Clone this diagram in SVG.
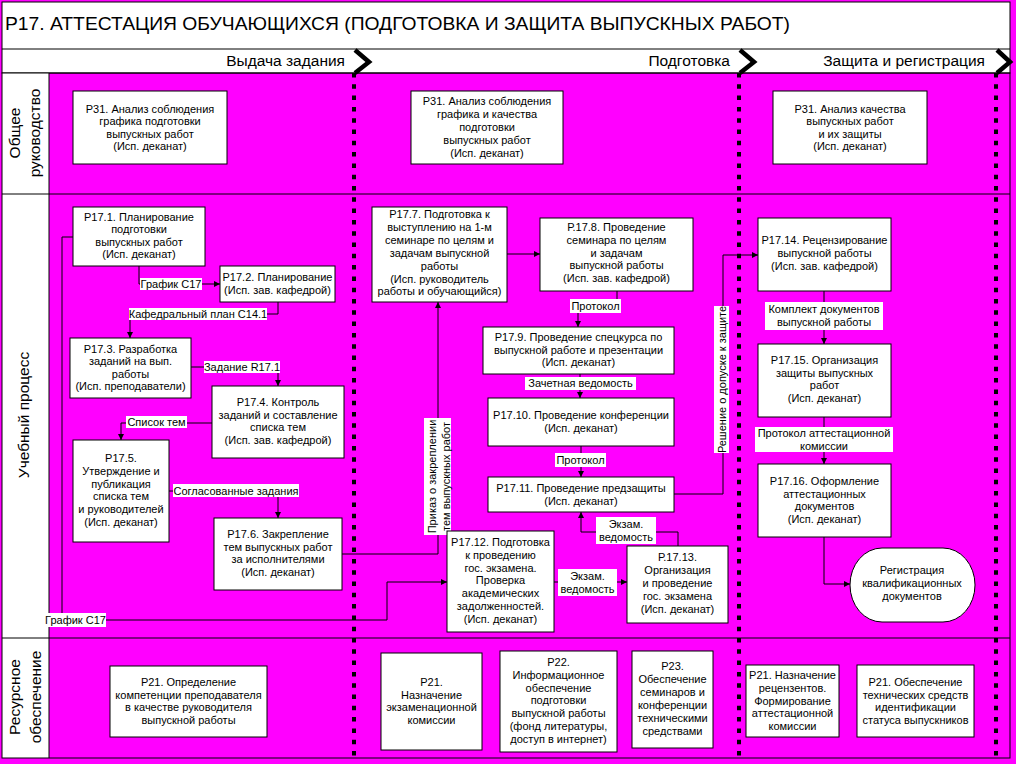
<svg xmlns="http://www.w3.org/2000/svg" width="1016" height="764" viewBox="0 0 1016 764">
<style>
text{font-family:"Liberation Sans",Arial,sans-serif;fill:#000}
.t{font-size:11px;text-anchor:middle}
.node rect,.node ellipse{fill:#fff;stroke:#000;stroke-width:1}
.conn path{fill:none;stroke:#000;stroke-width:1}
.lb{fill:#fff}
.lane{font-size:15.5px;text-anchor:middle}
.ph{font-size:15.5px;text-anchor:end}
.dash{stroke:#000;stroke-width:4;stroke-dasharray:4.5 6.8;fill:none}
.chev{fill:none;stroke:#000;stroke-width:4.5;stroke-linejoin:miter}
.ln{stroke:#000;stroke-width:1;fill:none}
</style>
<defs>
<marker id="a" viewBox="0 0 8 8" refX="8" refY="4" markerWidth="7" markerHeight="6" markerUnits="userSpaceOnUse" orient="auto">
<path d="M0,0 L8,4 L0,8 z" fill="#000"/>
</marker>
</defs>
<rect x="0" y="0" width="1016" height="764" fill="#FF00FF"/>
<g id="frame">
<rect x="2" y="2" width="1008" height="71" fill="#fff" stroke="#000"/>
<line class="ln" x1="2" y1="49" x2="1010" y2="49"/>
<rect x="2" y="73" width="47" height="685" fill="#fff"/>
<rect x="2" y="73" width="1008" height="685" class="ln"/>
<line class="ln" x1="49" y1="73" x2="49" y2="758"/>
<line class="ln" x1="2" y1="194" x2="1010" y2="194"/>
<line class="ln" x1="2" y1="638" x2="1010" y2="638"/>
<text x="5" y="30" font-size="19" textLength="785" lengthAdjust="spacingAndGlyphs">Р17. АТТЕСТАЦИЯ ОБУЧАЮЩИХСЯ (ПОДГОТОВКА И ЗАЩИТА ВЫПУСКНЫХ РАБОТ)</text>
<text class="ph" x="345" y="66">Выдача задания</text>
<text class="ph" x="730" y="66">Подготовка</text>
<text class="ph" x="985" y="66">Защита и регистрация</text>
<line class="dash" x1="354" y1="73" x2="354" y2="758"/>
<line class="dash" x1="739" y1="73" x2="739" y2="758"/>
<line class="dash" x1="996" y1="73" x2="996" y2="758"/>
<polyline class="chev" points="355,50 369,62 355,73"/>
<polyline class="chev" points="740,50 754,62 740,73"/>
<polyline class="chev" points="997,50 1010,62 997,73"/>
<text class="lane" transform="translate(20,133) rotate(-90)">Общее</text>
<text class="lane" transform="translate(40,133) rotate(-90)">руководство</text>
<text class="lane" transform="translate(29,415) rotate(-90)">Учебный процесс</text>
<text class="lane" transform="translate(20,697) rotate(-90)">Ресурсное</text>
<text class="lane" transform="translate(41,697) rotate(-90)">обеспечение</text>
</g>
<g id="connectors" class="conn">
<path d="M139,266 V284 H220" marker-end="url(#a)"/>
<path d="M278,302 V314 H130 V338" marker-end="url(#a)"/>
<path d="M191,367 H278 V386" marker-end="url(#a)"/>
<path d="M212,423 H121 V440" marker-end="url(#a)"/>
<path d="M169,491 H278 V518" marker-end="url(#a)"/>
<path d="M342,554 H438 V302" marker-end="url(#a)"/>
<path d="M73,237 H62 V620 H387 V582 H447" marker-end="url(#a)"/>
<path d="M507,254 H540" marker-end="url(#a)"/>
<path d="M617,291 V306 H578 V327" marker-end="url(#a)"/>
<path d="M580,374 V398" marker-end="url(#a)"/>
<path d="M581,446 V477" marker-end="url(#a)"/>
<path d="M674,494 H723 V255 H758" marker-end="url(#a)"/>
<path d="M678,546 V532 H581 V512" marker-end="url(#a)"/>
<path d="M554,582 H627" marker-end="url(#a)"/>
<path d="M824,291 V344" marker-end="url(#a)"/>
<path d="M824,417 V464" marker-end="url(#a)"/>
<path d="M824,537 V584 H850" marker-end="url(#a)"/>
<g id="labels">
<rect class="lb" x="140" y="278" width="62" height="12"/><text class="t" x="171" y="288">График С17</text>
<rect class="lb" x="129" y="308" width="138" height="12"/><text class="t" x="198" y="318">Кафедральный план С14.1</text>
<rect class="lb" x="204" y="361" width="76" height="12"/><text class="t" x="242" y="371">Задание R17.1</text>
<rect class="lb" x="126" y="416" width="61" height="12"/><text class="t" x="156.5" y="426">Список тем</text>
<rect class="lb" x="173" y="484" width="126" height="13"/><text class="t" x="236" y="495">Согласованные задания</text>
<rect class="lb" x="570" y="299" width="51" height="14"/><text class="t" x="595.5" y="310">Протокол</text>
<rect class="lb" x="525" y="377" width="111" height="13"/><text class="t" x="580.5" y="387">Зачетная ведомость</text>
<rect class="lb" x="555" y="453" width="51" height="14"/><text class="t" x="580.5" y="464">Протокол</text>
<rect class="lb" x="596" y="517" width="60" height="27"/><text class="t" x="626" y="528">Экзам.<tspan x="626" dy="13">ведомость</tspan></text>
<rect class="lb" x="558" y="569" width="59" height="27"/><text class="t" x="587.5" y="580">Экзам.<tspan x="587.5" dy="13">ведомость</tspan></text>
<rect class="lb" x="765" y="302" width="118" height="28"/><text class="t" x="824" y="313">Комплект документов<tspan x="824" dy="13">выпускной работы</tspan></text>
<rect class="lb" x="755" y="427" width="138" height="25"/><text class="t" x="824" y="437">Протокол аттестационной<tspan x="824" dy="13">комиссии</tspan></text>
<rect class="lb" x="45" y="613" width="61" height="14"/><text class="t" x="75.5" y="624">График С17</text>
<rect class="lb" x="424" y="418" width="27" height="117"/>
<text class="t" transform="translate(436,476.5) rotate(-90)">Приказ о закреплении</text>
<text class="t" transform="translate(450,476.5) rotate(-90)">тем выпускных работ</text>
<rect class="lb" x="714" y="306" width="15" height="147"/>
<text class="t" transform="translate(725.5,379.5) rotate(-90)">Решение о допуске к защите</text>
</g>
</g>
<g id="r31_1" class="node"><rect x="73" y="91" width="154" height="73"/><text class="t" x="150" y="113">Р31. Анализ соблюдения<tspan x="150" dy="12.4">графика подготовки</tspan><tspan x="150" dy="12.4">выпускных работ</tspan><tspan x="150" dy="12.4">(Исп. деканат)</tspan></text></g>
<g id="r31_2" class="node"><rect x="411" y="91" width="152" height="73"/><text class="t" x="487" y="105">Р31. Анализ соблюдения<tspan x="487" dy="13">графика и качества</tspan><tspan x="487" dy="13">подготовки</tspan><tspan x="487" dy="13">выпускных работ</tspan><tspan x="487" dy="13">(Исп. деканат)</tspan></text></g>
<g id="r31_3" class="node"><rect x="773" y="91" width="154" height="73"/><text class="t" x="850" y="113">Р31. Анализ качества<tspan x="850" dy="12.4">выпускных работ</tspan><tspan x="850" dy="12.4">и их защиты</tspan><tspan x="850" dy="12.4">(Исп. деканат)</tspan></text></g>
<g id="p17_1" class="node"><rect x="73" y="207" width="132" height="59"/><text class="t" x="139" y="221">Р17.1. Планирование<tspan x="139" dy="12.4">подготовки</tspan><tspan x="139" dy="12.4">выпускных работ</tspan><tspan x="139" dy="12.4">(Исп. деканат)</tspan></text></g>
<g id="p17_2" class="node"><rect x="220" y="266" width="115" height="36"/><text class="t" x="277.5" y="281">Р17.2. Планирование<tspan x="277.5" dy="13">(Исп. зав. кафедрой)</tspan></text></g>
<g id="p17_3" class="node"><rect x="70" y="338" width="121" height="60"/><text class="t" x="130.5" y="353">Р17.3. Разработка<tspan x="130.5" dy="12.4">заданий на вып.</tspan><tspan x="130.5" dy="12.4">работы</tspan><tspan x="130.5" dy="12.4">(Исп. преподаватели)</tspan></text></g>
<g id="p17_4" class="node"><rect x="212" y="386" width="132" height="72"/><text class="t" x="278" y="406">Р17.4. Контроль<tspan x="278" dy="12.6">заданий и составление</tspan><tspan x="278" dy="12.6">списка тем</tspan><tspan x="278" dy="12.6">(Исп. зав. кафедрой)</tspan></text></g>
<g id="p17_5" class="node"><rect x="73" y="440" width="96" height="102"/><text class="t" x="121" y="462">Р17.5.<tspan x="121" dy="12.8">Утверждение и</tspan><tspan x="121" dy="12.8">публикация</tspan><tspan x="121" dy="12.8">списка тем</tspan><tspan x="121" dy="12.8">и руководителей</tspan><tspan x="121" dy="12.8">(Исп. деканат)</tspan></text></g>
<g id="p17_6" class="node"><rect x="214" y="518" width="128" height="72"/><text class="t" x="278" y="538">Р17.6. Закрепление<tspan x="278" dy="12.6">тем выпускных работ</tspan><tspan x="278" dy="12.6">за исполнителями</tspan><tspan x="278" dy="12.6">(Исп. деканат)</tspan></text></g>
<g id="p17_7" class="node"><rect x="372" y="207" width="135" height="95"/><text class="t" x="439.5" y="218">Р17.7. Подготовка к<tspan x="439.5" dy="12.9">выступлению на 1-м</tspan><tspan x="439.5" dy="12.9">семинаре по целям и</tspan><tspan x="439.5" dy="12.9">задачам выпускной</tspan><tspan x="439.5" dy="12.9">работы</tspan><tspan x="439.5" dy="12.9">(Исп. руководитель</tspan><tspan x="439.5" dy="12.9">работы и обучающийся)</tspan></text></g>
<g id="p17_8" class="node"><rect x="540" y="218" width="153" height="73"/><text class="t" x="616.5" y="231">Р.17.8. Проведение<tspan x="616.5" dy="12.8">семинара по целям</tspan><tspan x="616.5" dy="12.8">и задачам</tspan><tspan x="616.5" dy="12.8">выпускной работы</tspan><tspan x="616.5" dy="12.8">(Исп. зав. кафедрой)</tspan></text></g>
<g id="p17_9" class="node"><rect x="483" y="327" width="191" height="47"/><text class="t" x="578.5" y="341">Р17.9. Проведение спецкурса по<tspan x="578.5" dy="12.5">выпускной работе и презентации</tspan><tspan x="578.5" dy="12.5">(Исп. деканат)</tspan></text></g>
<g id="p17_10" class="node"><rect x="488" y="398" width="186" height="48"/><text class="t" x="581" y="419">Р17.10. Проведение конференции<tspan x="581" dy="12.5">(Исп. деканат)</tspan></text></g>
<g id="p17_11" class="node"><rect x="488" y="477" width="186" height="35"/><text class="t" x="581" y="492">Р17.11. Проведение предзащиты<tspan x="581" dy="12.5">(Исп. деканат)</tspan></text></g>
<g id="p17_12" class="node"><rect x="447" y="531" width="107" height="101"/><text class="t" x="500.5" y="546">Р17.12. Подготовка<tspan x="500.5" dy="12.8">к проведению</tspan><tspan x="500.5" dy="12.8">гос. экзамена.</tspan><tspan x="500.5" dy="12.8">Проверка</tspan><tspan x="500.5" dy="12.8">академических</tspan><tspan x="500.5" dy="12.8">задолженностей.</tspan><tspan x="500.5" dy="12.8">(Исп. деканат)</tspan></text></g>
<g id="p17_13" class="node"><rect x="627" y="546" width="101" height="77"/><text class="t" x="677.5" y="561">Р.17.13.<tspan x="677.5" dy="13">Организация</tspan><tspan x="677.5" dy="13">и проведение</tspan><tspan x="677.5" dy="13">гос. экзамена</tspan><tspan x="677.5" dy="13">(Исп. деканат)</tspan></text></g>
<g id="p17_14" class="node"><rect x="758" y="218" width="133" height="73"/><text class="t" x="824.5" y="244">Р17.14. Рецензирование<tspan x="824.5" dy="13">выпускной работы</tspan><tspan x="824.5" dy="13">(Исп. зав. кафедрой)</tspan></text></g>
<g id="p17_15" class="node"><rect x="758" y="344" width="133" height="73"/><text class="t" x="824.5" y="364">Р17.15. Организация<tspan x="824.5" dy="12.7">защиты выпускных</tspan><tspan x="824.5" dy="12.7">работ</tspan><tspan x="824.5" dy="12.7">(Исп. деканат)</tspan></text></g>
<g id="p17_16" class="node"><rect x="758" y="464" width="133" height="73"/><text class="t" x="824.5" y="485">Р17.16. Оформление<tspan x="824.5" dy="12.7">аттестационных</tspan><tspan x="824.5" dy="12.7">документов</tspan><tspan x="824.5" dy="12.7">(Исп. деканат)</tspan></text></g>
<g id="registration" class="node"><rect x="850" y="548" width="125" height="74" rx="32" ry="37"/><text class="t" x="912" y="574">Регистрация<tspan x="912" dy="13">квалификационных</tspan><tspan x="912" dy="13">документов</tspan></text></g>
<g id="r21_1" class="node"><rect x="110" y="666" width="157" height="71"/><text class="t" x="188.5" y="686">Р21. Определение<tspan x="188.5" dy="12.7">компетенции преподавателя</tspan><tspan x="188.5" dy="12.7">в качестве руководителя</tspan><tspan x="188.5" dy="12.7">выпускной работы</tspan></text></g>
<g id="r21_2" class="node"><rect x="381" y="653" width="101" height="97"/><text class="t" x="431.5" y="686">Р21.<tspan x="431.5" dy="12.7">Назначение</tspan><tspan x="431.5" dy="12.7">экзаменационной</tspan><tspan x="431.5" dy="12.7">комиссии</tspan></text></g>
<g id="r22" class="node"><rect x="500" y="651" width="117" height="101"/><text class="t" x="558.5" y="666">Р22.<tspan x="558.5" dy="12.8">Информационное</tspan><tspan x="558.5" dy="12.8">обеспечение</tspan><tspan x="558.5" dy="12.8">подготовки</tspan><tspan x="558.5" dy="12.8">выпускной работы</tspan><tspan x="558.5" dy="12.8">(фонд литературы,</tspan><tspan x="558.5" dy="12.8">доступ в интернет)</tspan></text></g>
<g id="r23" class="node"><rect x="632" y="651" width="81" height="97"/><text class="t" x="672.5" y="670">Р23.<tspan x="672.5" dy="13">Обеспечение</tspan><tspan x="672.5" dy="13">семинаров и</tspan><tspan x="672.5" dy="13">конференции</tspan><tspan x="672.5" dy="13">техническими</tspan><tspan x="672.5" dy="13">средствами</tspan></text></g>
<g id="r21_3" class="node"><rect x="746" y="665" width="93" height="72"/><text class="t" x="792.5" y="679">Р21. Назначение<tspan x="792.5" dy="12.8">рецензентов.</tspan><tspan x="792.5" dy="12.8">Формирование</tspan><tspan x="792.5" dy="12.8">аттестационной</tspan><tspan x="792.5" dy="12.8">комиссии</tspan></text></g>
<g id="r21_4" class="node"><rect x="857" y="665" width="117" height="72"/><text class="t" x="915.5" y="686">Р21. Обеспечение<tspan x="915.5" dy="12.7">технических средств</tspan><tspan x="915.5" dy="12.7">идентификации</tspan><tspan x="915.5" dy="12.7">статуса выпускников</tspan></text></g>
</svg>
